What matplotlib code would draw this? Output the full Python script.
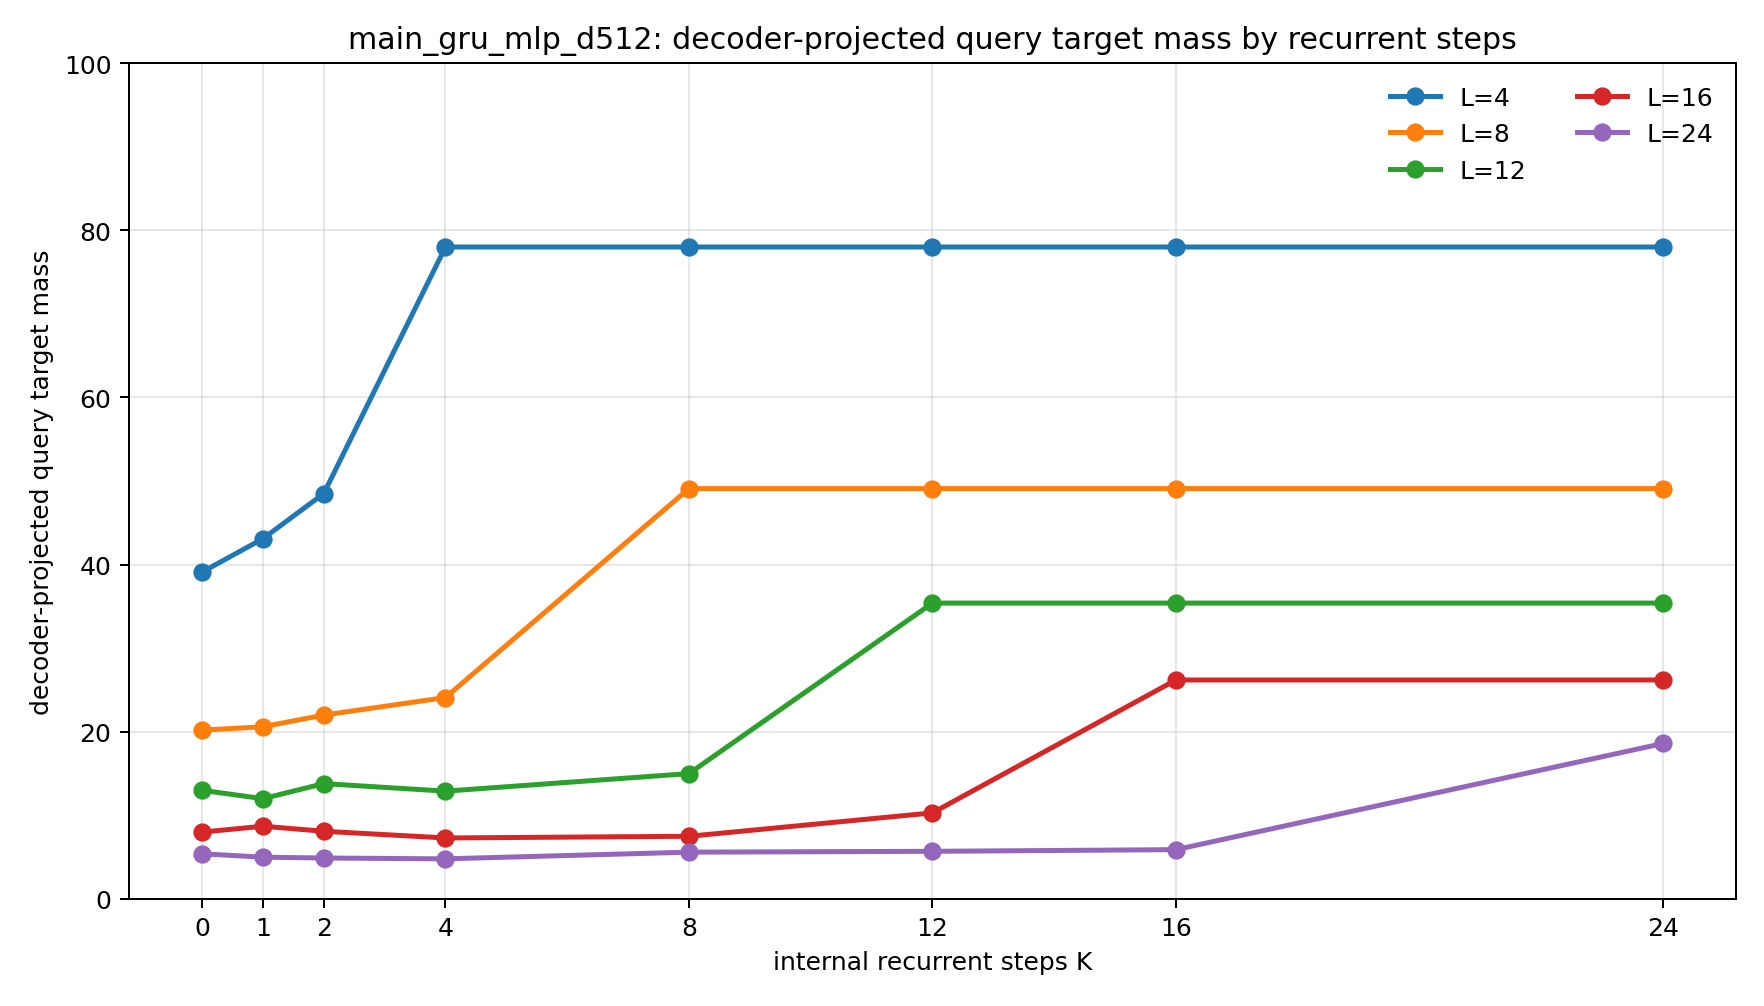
import numpy as np
import matplotlib
matplotlib.use("Agg")
import matplotlib.pyplot as plt

# recurrent steps K on the x axis
steps_k = [0, 1, 2, 4, 8, 12, 16, 24]

# target mass per context length L
mass_l4 = [39.1, 43.1, 48.5, 78.0, 78.0, 78.0, 78.0, 78.0]
mass_l8 = [20.2, 20.6, 22.0, 24.1, 49.1, 49.1, 49.1, 49.1]
mass_l12 = [13.0, 12.0, 13.8, 12.9, 15.0, 35.4, 35.4, 35.4]
mass_l16 = [8.0, 8.7, 8.1, 7.3, 7.5, 10.3, 26.2, 26.2]
mass_l24 = [5.4, 5.0, 4.9, 4.8, 5.6, 5.7, 5.9, 18.6]

series_labels = ['L=4', 'L=8', 'L=12', 'L=16', 'L=24']


def main():
    fig = plt.figure(figsize=(9.8, 5.594), dpi=180)
    ax = fig.add_axes([0.0731, 0.1063, 0.9110, 0.8301])

    all_series = [mass_l4, mass_l8, mass_l12, mass_l16, mass_l24]
    for values, label in zip(all_series, series_labels):
        ax.plot(steps_k, values, marker='o', linewidth=2, markersize=6.3, label=label)

    ax.set_ylim(0, 100)
    ax.set_xticks(steps_k)
    ax.grid(True, alpha=0.3)
    ax.set_xlabel('internal recurrent steps K')
    ax.set_ylabel('decoder-projected query target mass')
    ax.set_title('main_gru_mlp_d512: decoder-projected query target mass by recurrent steps',
                 fontsize=12)
    ax.legend(ncol=2, frameon=False, loc='upper right')

    fig.savefig('out.png', dpi=180)


if __name__ == '__main__':
    main()
